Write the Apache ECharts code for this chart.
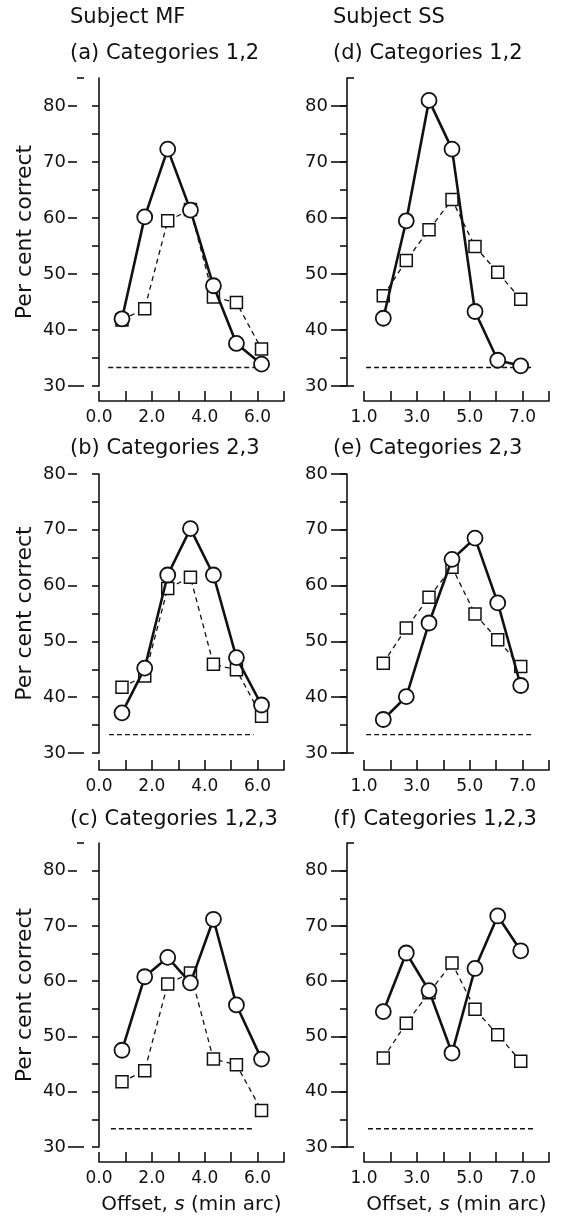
<!DOCTYPE html>
<html>
<head>
<meta charset="utf-8">
<script src="https://cdn.jsdelivr.net/npm/echarts@6/dist/echarts.min.js"></script>
<style>
html, body { margin: 0; padding: 0; background: #fff; }
#main { width: 563px; height: 1222px; }
</style>
</head>
<body>
<div id="main"></div>
<script>
// offset s (min arc) of the seven conditions
var offsetMF = [0.87, 1.73, 2.6, 3.46, 4.33, 5.2, 6.15];
var offsetSS = [1.73, 2.6, 3.46, 4.33, 5.2, 6.06, 6.93];

// squares: same comparison curve in all panels of one subject
var squareMF = [41.8, 43.8, 59.5, 61.5, 45.9, 44.9, 36.6];
var squareSS = [46.1, 52.4, 57.9, 63.3, 54.9, 50.3, 45.5];

// circles, one array per panel
var circleA = [42.0, 60.2, 72.3, 61.4, 47.9, 37.6, 33.9];
var circleB = [37.2, 45.2, 61.9, 70.2, 61.9, 47.1, 38.6];
var circleC = [47.5, 60.8, 64.3, 59.7, 71.2, 55.7, 45.9];
var circleD = [42.1, 59.5, 81.0, 72.3, 43.3, 34.6, 33.6];
var circleE = [36.0, 40.1, 53.3, 64.7, 68.5, 56.9, 42.1];
var circleF = [54.5, 65.1, 58.3, 47.0, 62.3, 71.8, 65.5];

// chance level and the x range its dashed line covers
var chance = 33.3;
var chanceA = [0.35, 6.2];
var chanceB = [0.38, 5.85];
var chanceC = [0.45, 5.9];
var chanceD = [1.08, 7.35];
var chanceE = [1.08, 7.42];
var chanceF = [1.15, 7.45];

// texts and ticks
var subjects = ['Subject MF', 'Subject SS'];
var panelTitles = ['(a) Categories 1,2', '(b) Categories 2,3', '(c) Categories 1,2,3',
                   '(d) Categories 1,2', '(e) Categories 2,3', '(f) Categories 1,2,3'];
var yName = 'Per cent correct';
var yLabels = [30, 40, 50, 60, 70, 80];
var yTicks = [30, 35, 40, 45, 50, 55, 60, 65, 70, 75, 80];
var xLabelsMF = [0, 2, 4, 6];
var xLabelsSS = [1, 3, 5, 7];

var FONT = 'DejaVu Sans';
var INK = '#111';

// layout of the 2 x 3 panels
var cols = [
    {left: 99, width: 185, yOff: 22, major: 9, margin: 11, titleLeft: 70},
    {left: 364, width: 185, yOff: 17, major: 16, margin: 19, titleLeft: 333}
];
var rows = [
    {top: 78, height: 308, max: 85, xOff: 15, titleTop: 43, stubs: [30, 85]},
    {top: 474, height: 279, max: 80, xOff: 17, titleTop: 438, stubs: [30]},
    {top: 843, height: 304, max: 85, xOff: 15, titleTop: 809, stubs: [30, 85]}
];

var panels = [
    {col: 0, row: 0, circles: circleA, squares: squareMF, offsets: offsetMF, chanceX: chanceA, xMin: 0, xLabels: xLabelsMF},
    {col: 0, row: 1, circles: circleB, squares: squareMF, offsets: offsetMF, chanceX: chanceB, xMin: 0, xLabels: xLabelsMF},
    {col: 0, row: 2, circles: circleC, squares: squareMF, offsets: offsetMF, chanceX: chanceC, xMin: 0, xLabels: xLabelsMF},
    {col: 1, row: 0, circles: circleD, squares: squareSS, offsets: offsetSS, chanceX: chanceD, xMin: 1, xLabels: xLabelsSS},
    {col: 1, row: 1, circles: circleE, squares: squareSS, offsets: offsetSS, chanceX: chanceE, xMin: 1, xLabels: xLabelsSS},
    {col: 1, row: 2, circles: circleF, squares: squareSS, offsets: offsetSS, chanceX: chanceF, xMin: 1, xLabels: xLabelsSS}
];

function zip(xs, ys) {
    var out = [];
    for (var i = 0; i < xs.length; i++) out.push([xs[i], ys[i]]);
    return out;
}

var grids = [], xAxes = [], yAxes = [], series = [], titles = [];

titles.push({text: subjects[0], left: cols[0].titleLeft, top: 7});
titles.push({text: subjects[1], left: cols[1].titleLeft, top: 7});

panels.forEach(function (p, i) {
    var c = cols[p.col], r = rows[p.row];
    titles.push({text: panelTitles[i], left: c.titleLeft, top: r.titleTop});

    grids.push({left: c.left, top: r.top, width: c.width, height: r.height, outerBoundsMode: 'none'});

    var lastRow = p.row === 2;
    xAxes.push({
        type: 'value', gridIndex: i, position: 'bottom', offset: r.xOff,
        min: p.xMin, max: p.xMin + 7, interval: 1,
        splitLine: {show: false},
        axisLine: {show: true, lineStyle: {color: INK, width: 1.6}},
        axisTick: {show: true, inside: true, length: 10, lineStyle: {color: INK, width: 1.6}},
        axisLabel: {
            margin: 8, color: INK, fontSize: 17, fontFamily: FONT,
            formatter: (function (labels) {
                return function (v) { return labels.indexOf(Math.round(v * 10) / 10) >= 0 ? v.toFixed(1) : ''; };
            })(p.xLabels)
        },
        name: lastRow ? '{n|Offset, }{i|s}{n| (min arc)}' : '',
        nameLocation: 'middle', nameGap: 33,
        nameTextStyle: {
            color: INK, fontSize: 20, fontFamily: FONT,
            rich: {
                n: {color: INK, fontSize: 20, fontFamily: FONT},
                i: {color: INK, fontSize: 20, fontFamily: FONT, fontStyle: 'italic'}
            }
        }
    });

    var base = 3 * i;
    // axis line with short ticks every 5
    yAxes.push({
        type: 'value', gridIndex: i, position: 'left', offset: c.yOff,
        min: 30, max: r.max, interval: 5,
        splitLine: {show: false},
        axisLine: {show: true, lineStyle: {color: INK, width: 1.6}},
        axisTick: {show: true, length: 7, customValues: yTicks, lineStyle: {color: INK, width: 1.6}},
        axisLabel: {show: false},
        name: p.col === 0 ? yName : '',
        nameLocation: 'middle', nameGap: 41,
        nameTextStyle: {color: INK, fontSize: 22, fontFamily: FONT}
    });
    // longer ticks and labels at every 10
    yAxes.push({
        type: 'value', gridIndex: i, position: 'left', offset: c.yOff,
        min: 30, max: r.max, interval: 10,
        splitLine: {show: false},
        axisLine: {show: false},
        axisTick: {show: true, length: c.major, customValues: yLabels, lineStyle: {color: INK, width: 1.6}},
        axisLabel: {
            margin: c.margin, color: INK, fontSize: 18, fontFamily: FONT,
            customValues: yLabels,
            formatter: function (v) { return yLabels.indexOf(v) >= 0 ? String(v) : ''; }
        }
    });
    // small inward stubs at the ends of the axis line
    yAxes.push({
        type: 'value', gridIndex: i, position: 'left', offset: c.yOff,
        min: 30, max: r.max, interval: 5,
        splitLine: {show: false},
        axisLine: {show: false},
        axisTick: {show: true, inside: true, length: 7, customValues: r.stubs, lineStyle: {color: INK, width: 1.6}},
        axisLabel: {show: false}
    });

    series.push({
        type: 'line', xAxisIndex: i, yAxisIndex: base,
        data: zip(p.chanceX, [chance, chance]),
        symbol: 'none', silent: true, z: 1,
        lineStyle: {color: INK, width: 1.3, type: [5, 3]}
    });
    series.push({
        type: 'line', xAxisIndex: i, yAxisIndex: base,
        data: zip(p.offsets, p.squares),
        symbol: 'rect', symbolSize: 12, showSymbol: true, z: 2,
        itemStyle: {color: '#fff', borderColor: INK, borderWidth: 1.5},
        lineStyle: {color: INK, width: 1.3, type: [5, 4]}
    });
    series.push({
        type: 'line', xAxisIndex: i, yAxisIndex: base,
        data: zip(p.offsets, p.circles),
        symbol: 'circle', symbolSize: 15, showSymbol: true, z: 3,
        itemStyle: {color: '#fff', borderColor: INK, borderWidth: 1.8},
        lineStyle: {color: INK, width: 2.6}
    });
});

titles.forEach(function (t) {
    t.padding = 0;
    t.textStyle = {color: INK, fontSize: 21, fontWeight: 'normal', fontFamily: FONT};
});

var myChart = echarts.init(document.getElementById('main'));
myChart.setOption({
    animation: false,
    backgroundColor: '#fff',
    title: titles,
    grid: grids,
    xAxis: xAxes,
    yAxis: yAxes,
    series: series
});
</script>
</body>
</html>
